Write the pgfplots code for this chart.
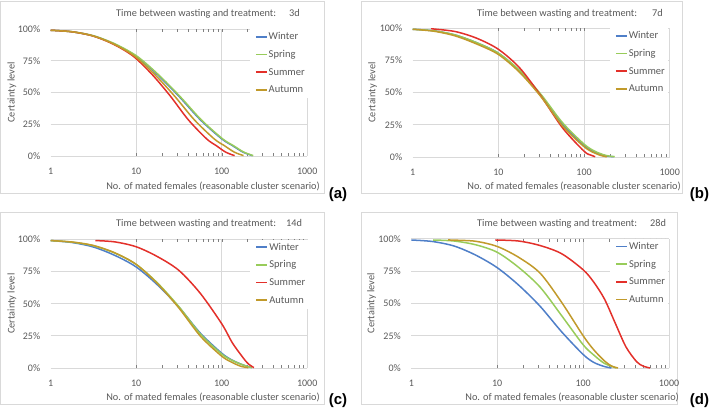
\documentclass[border=0pt]{standalone}
\usepackage{fontspec}
\setmainfont{Carlito}
\newfontfamily\arialfont{Liberation Sans}
\usepackage{pgfplots}
\pgfplotsset{compat=1.18}
\definecolor{cwin}{HTML}{4F7FC8}
\definecolor{cspr}{HTML}{98CC5A}
\definecolor{csum}{HTML}{E3302A}
\definecolor{caut}{HTML}{C19A2B}
\definecolor{gridc}{HTML}{D9D9D9}
\definecolor{framec}{HTML}{D9D9D9}
\definecolor{txt}{HTML}{595959}
\pgfplotsset{
 every axis/.append style={
  scale only axis, anchor=south west, clip=false,
  xmin=1, xmax=1000, ymin=0, ymax=100,
  xtick={10,100,1000}, xticklabels={10,100,1000},
  extra x ticks={1}, extra x tick labels={1}, extra x tick style={grid=none},
  ytick={0,25,50,75,100}, yticklabels={0\%,25\%,50\%,75\%,100\%},
  xmajorgrids, ymajorgrids, major grid style={draw=gridc, line width=0.8pt},
  axis line style={draw=none}, major tick length=0pt,
  /pgf/number format/assume math mode=true,
  tick label style={font=\fontsize{10}{12}\selectfont, text=txt},
  xticklabel style={yshift=-8.3pt},
  yticklabel style={xshift=-7pt},
  xlabel={No. of mated females (reasonable cluster scenario)},
  ylabel={Certainty level},
  label style={font=\fontsize{10.3}{12}\selectfont, text=txt},
  xlabel style={anchor=center},
  ylabel style={anchor=center},
  legend image code/.code={\path[draw=none, fill=none] (0pt,-1pt) rectangle (14pt,1pt); \draw[##1, line width=1.8pt] (3pt,0.5pt) -- (14pt,0.5pt);},
  legend cell align=left,
  legend style={draw=none, fill=white, inner xsep=3pt, inner ysep=3pt, anchor=north west,
    row sep=7.7pt, column sep=1pt,
    nodes={inner sep=0pt, text height=7.5pt, text depth=2.5pt, text=txt, font=\fontsize{10.5}{12}\selectfont}},
 },
 every axis plot/.append style={line width=1.5pt, smooth, no markers},
}
\begin{document}
\begin{tikzpicture}[x=1pt,y=1pt]
\useasboundingbox (0,0) rectangle (709,408);
% chart frames
\draw[framec, line width=0.8pt] (0.5,215) rectangle (324,407);
\draw[framec, line width=0.8pt] (361,215) rectangle (682,407);
\draw[framec, line width=0.8pt] (0.5,4) rectangle (324,196);
\draw[framec, line width=0.8pt] (361,4) rectangle (677,196);

% ---------------- (a) ----------------
\begin{semilogxaxis}[at={(50.7pt,252pt)}, width=256.5pt, height=127pt,
  legend style={at={(axis description cs:0.7755,1)}},
  xlabel style={at={(axis description cs:0.633,-0.236)}},
  ylabel style={at={(axis description cs:-0.151,0.5)}}]
\addplot[cwin] coordinates {(1,99) (1.778,97.8) (3.162,94.5) (5.623,88) (10,78.5) (17.78,64) (31.62,47) (56.23,28.5) (100,13.5) (133.4,8.2) (177.8,3) (229,0.3)};
\addlegendentry{Winter}
\addplot[cspr] coordinates {(1,99) (1.822,97.8) (3.241,94.5) (5.764,88) (10.25,78.5) (18.22,64) (32.41,47) (57.64,28.5) (102.5,13.5) (136.7,8.2) (182.2,3) (234,0.3)};
\addlegendentry{Spring}
\addplot[csum] coordinates {(1,99) (1.77,97.8) (3.115,94.5) (5.415,88) (9.26,78.5) (15.43,64) (25.2,47) (40.7,28.5) (66.6,13.5) (86.2,8.2) (111.6,3) (141.5,0.3)};
\addlegendentry{Summer}
\addplot[caut] coordinates {(1,99) (1.775,97.8) (3.139,94.5) (5.52,88) (9.625,78.5) (16.56,64) (28.25,47) (47.85,28.5) (81.6,13.5) (107.2,8.2) (140.8,3) (180,0.3)};
\addlegendentry{Autumn}
\end{semilogxaxis}

% ---------------- (b) ----------------
\begin{semilogxaxis}[at={(412.7pt,251pt)}, width=257pt, height=129pt,
  legend style={at={(axis description cs:0.7665,1)}},
  xlabel style={at={(axis description cs:0.628,-0.232)}},
  ylabel style={at={(axis description cs:-0.156,0.5)}}]
\addplot[cwin] coordinates {(1,99) (1.778,97.8) (3.162,94.5) (5.623,88.5) (10,80.5) (17.78,66.5) (31.62,47.5) (56.23,25.3) (100,9) (133.4,3.8) (177.8,1) (222,0.2)};
\addlegendentry{Winter}
\addplot[cspr] coordinates {(1,99) (1.778,97.8) (3.162,94.5) (5.623,88.5) (10,80.5) (17.78,67) (31.62,48.3) (56.23,26.5) (100,10) (133.4,4.5) (177.8,1.3) (228,0.2)};
\addlegendentry{Spring}
\addplot[csum] coordinates {(1.65,99.3) (1.778,99.2) (3.162,97.2) (5.623,92) (10,83.5) (17.78,69) (31.62,47) (56.23,22.5) (100,4.5) (120,1.5) (135,0.2)};
\addlegendentry{Summer}
\addplot[caut] coordinates {(1,99) (1.778,97.5) (3.162,93.8) (5.623,87.5) (10,79.5) (17.78,65.5) (31.62,46.5) (56.23,24) (100,8) (133.4,3) (165,0.8) (185,0.2)};
\addlegendentry{Autumn}
\end{semilogxaxis}

% ---------------- (c) ----------------
\begin{semilogxaxis}[at={(50.7pt,40pt)}, width=256.5pt, height=128.7pt,
  legend style={at={(axis description cs:0.778,1)}},
  xlabel style={at={(axis description cs:0.633,-0.228)}},
  ylabel style={at={(axis description cs:-0.151,0.5)}}]
\addplot[cwin] coordinates {(1,99) (1.778,97.5) (3.162,94) (5.623,87.5) (10,78.5) (17.78,64.5) (31.62,47.3) (56.23,27.1) (100,11.5) (133.4,6) (177.8,2.4) (225,0.3)};
\addlegendentry{Winter}
\addplot[cspr] coordinates {(1,99) (1.778,97.8) (3.162,95) (5.623,89.3) (10,80.5) (17.78,66) (31.62,47.6) (56.23,26.4) (100,10.8) (133.4,5.8) (177.8,2.3) (225,0.3)};
\addlegendentry{Spring}
\addplot[csum] coordinates {(3.34,99) (5.623,98) (10,94.2) (17.78,86.5) (31.62,75.8) (56.23,58) (100,34.4) (133.4,19.5) (177.8,8) (205,3.2) (238,0.3)};
\addlegendentry{Summer}
\addplot[caut] coordinates {(1,99) (1.778,97.9) (3.162,95.2) (5.623,89.5) (10,80.5) (17.78,65.5) (31.62,46.6) (56.23,24.8) (100,9.2) (133.4,4.2) (170,1.2) (205,0.3)};
\addlegendentry{Autumn}
\end{semilogxaxis}

% ---------------- (d) ----------------
\begin{semilogxaxis}[at={(411.3pt,40pt)}, width=257.7pt, height=129.3pt,
  legend style={at={(axis description cs:0.771,1)}},
  xlabel style={at={(axis description cs:0.624,-0.227)}},
  ylabel style={at={(axis description cs:-0.154,0.5)}}]
\addplot[cwin] coordinates {(1,99) (1.778,97.8) (3.162,94.3) (5.623,87.3) (10,77.6) (17.78,64.1) (31.62,47.7) (56.23,28) (100,10.5) (133.4,4.3) (177.8,1.1) (214,0)};
\addlegendentry{Winter}
\addplot[cspr] coordinates {(1.79,99) (3.162,98.2) (5.623,95.3) (10,89.5) (17.78,77.8) (31.62,62.5) (56.23,40.5) (100,18) (133.4,10) (177.8,3.5) (244,0)};
\addlegendentry{Spring}
\addplot[csum] coordinates {(9.5,99) (17.78,98.2) (31.62,94.7) (56.23,88.4) (100,76) (133.4,66.3) (177.8,53.2) (237,34.6) (316.2,16.2) (421,4.8) (500,1.5) (600,0)};
\addlegendentry{Summer}
\addplot[caut] coordinates {(2.67,99) (3.162,98.9) (5.623,98) (10,94) (17.78,85.6) (31.62,73.3) (56.23,50.8) (100,25) (133.4,14) (177.8,5.4) (215,1.5) (255,0)};
\addlegendentry{Autumn}
\end{semilogxaxis}

% titles
\begin{scope}[every node/.style={text=txt, font=\fontsize{10.3}{12}\selectfont, inner sep=0pt}]
\node[anchor=base west] at (116,391.7) {Time between wasting and treatment:};
\node[anchor=base west] at (289,391.7) {3d};
\node[anchor=base west] at (477,391.7) {Time between wasting and treatment:};
\node[anchor=base west] at (652,391.7) {7d};
\node[anchor=base west] at (116,181.7) {Time between wasting and treatment:};
\node[anchor=base west] at (286,181.7) {14d};
\node[anchor=base west] at (477,181.7) {Time between wasting and treatment:};
\node[anchor=base west] at (650,181.7) {28d};
\end{scope}
% panel labels
\begin{scope}[every node/.style={font=\arialfont\bfseries\fontsize{15}{16}\selectfont, inner sep=0pt}]
\node at (338,213.5) {(a)};
\node at (699.5,213.5) {(b)};
\node at (338,7) {(c)};
\node at (699.5,7) {(d)};
\end{scope}
\end{tikzpicture}
\end{document}
